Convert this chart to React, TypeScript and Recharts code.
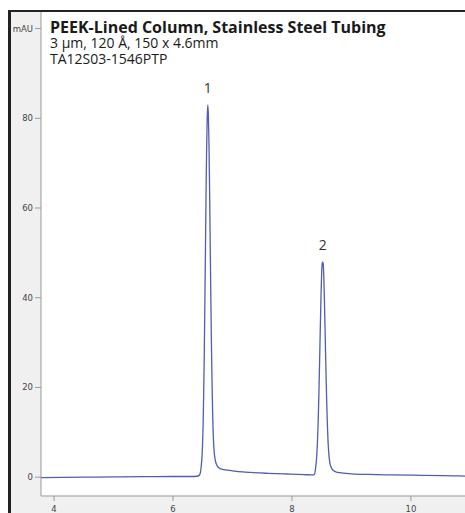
import React from "react";
import {
  LineChart,
  Line,
  XAxis,
  YAxis,
  CartesianGrid,
  ReferenceDot,
} from "recharts";

// retention time (min) and absorbance (mAU)
const retentionTimes = [
  3.78, 4.5, 5.0, 5.5, 6.0, 6.3, 6.4, 6.44, 6.46, 6.475, 6.495, 6.505, 6.515,
  6.525, 6.535, 6.545, 6.555, 6.565, 6.575, 6.585, 6.595, 6.605, 6.615, 6.625,
  6.635, 6.645, 6.655, 6.665, 6.675, 6.69, 6.71, 6.74, 6.78, 6.85, 6.95, 7.1,
  7.3, 7.6, 7.9, 8.2, 8.35, 8.38, 8.396, 8.416, 8.426, 8.436, 8.446, 8.456,
  8.466, 8.476, 8.486, 8.496, 8.506, 8.516, 8.526, 8.536, 8.546, 8.556, 8.566,
  8.576, 8.586, 8.596, 8.606, 8.62, 8.64, 8.67, 8.72, 8.8, 9.0, 9.3, 9.7, 10.2,
  10.7, 10.91,
];
const absorbance = [
  -0.1, 0.0, 0.05, 0.1, 0.15, 0.15, 0.2, 0.4, 1.0, 2.5, 6.6, 11, 18, 27, 38,
  50, 63, 73, 80, 83, 80.5, 74, 64, 52.5, 41, 30.5, 22, 15, 10, 6, 3.8, 2.6,
  2.0, 1.7, 1.5, 1.25, 1.05, 0.85, 0.7, 0.55, 0.5, 0.6, 1.9, 4.6, 7.0, 10.4,
  14.8, 20.2, 26.4, 32.8, 38.9, 44.0, 47.3, 48, 47.5, 44.5, 39.5, 33.5, 27.2,
  21.2, 16, 11.6, 8.2, 5.2, 3.0, 1.9, 1.3, 1.0, 0.75, 0.6, 0.5, 0.4, 0.3, 0.25,
];

const peakTimes = [6.585, 8.516];
const peakHeights = [83, 48];
const peakLabels = ["1", "2"];

const xMajorTicks = [4, 6, 8, 10];
const xMinorTicks = [
  4, 4.5, 5, 5.5, 6, 6.5, 7, 7.5, 8, 8.5, 9, 9.5, 10, 10.5,
];
const yMajorTicks = [0, 20, 40, 60, 80, 100];
const yMinorTicks = [
  0, 5, 10, 15, 20, 25, 30, 35, 40, 45, 50, 55, 60, 65, 70, 75, 80, 85, 90, 95,
  100,
];

const data = retentionTimes.map((t, i) => ({ t, mAU: absorbance[i] }));

const X_DOMAIN: [number, number] = [3.78, 10.91];
const Y_DOMAIN: [number, number] = [-4.2, 103.7];

const tickFont = { fontSize: 8.5, fill: "#444", fontFamily: "DejaVu Sans" };
const textFont = "'Open Sans', sans-serif";

export default function App() {
  return (
    <div
      style={{
        position: "fixed",
        left: 0,
        top: 0,
        width: 465,
        height: 513,
        background: "#fff",
        overflow: "hidden",
      }}
    >
      <div
        style={{
          position: "absolute",
          left: 8,
          top: 10,
          width: 470,
          height: 520,
          borderLeft: "3px solid #222",
          borderTop: "2px solid #222",
          background: "#f0f0f0",
        }}
      />
      <div style={{ position: "absolute", left: 0, top: 0 }}>
        <LineChart
          width={465}
          height={513}
          data={data}
          margin={{ top: 12, right: 0, left: 0, bottom: 0 }}
        >
          <CartesianGrid
            xAxisId="major"
            yAxisId="major"
            horizontal={false}
            vertical={false}
            fill="#fff"
          />
          <XAxis
            xAxisId="minor"
            dataKey="t"
            type="number"
            domain={X_DOMAIN}
            allowDataOverflow
            ticks={xMinorTicks}
            tickFormatter={() => ""}
            tickSize={3}
            tickLine={{ stroke: "#999" }}
            axisLine={false}
            height={0}
          />
          <XAxis
            xAxisId="major"
            dataKey="t"
            type="number"
            domain={X_DOMAIN}
            allowDataOverflow
            ticks={xMajorTicks}
            tickSize={5}
            tickMargin={5}
            tick={tickFont}
            tickLine={{ stroke: "#999" }}
            axisLine={{ stroke: "#999" }}
            height={17}
          />
          <YAxis
            yAxisId="minor"
            type="number"
            domain={Y_DOMAIN}
            allowDataOverflow
            ticks={yMinorTicks}
            tickFormatter={() => ""}
            tickSize={3}
            tickLine={{ stroke: "#999" }}
            axisLine={false}
            width={0}
          />
          <YAxis
            yAxisId="major"
            type="number"
            domain={Y_DOMAIN}
            allowDataOverflow
            ticks={yMajorTicks}
            tickFormatter={(v: number) => (v === 100 ? "mAU" : String(v))}
            tickSize={6}
            tickMargin={2}
            tick={tickFont}
            tickLine={{ stroke: "#999" }}
            axisLine={{ stroke: "#999" }}
            width={41}
          />
          <Line
            xAxisId="major"
            yAxisId="major"
            type="monotone"
            dataKey="mAU"
            stroke="#4f5eb0"
            strokeWidth={1.3}
            dot={false}
            isAnimationActive={false}
          />
          {peakTimes.map((t, i) => (
            <ReferenceDot
              key={peakLabels[i]}
              xAxisId="major"
              yAxisId="major"
              x={t}
              y={peakHeights[i]}
              r={0}
              stroke="none"
              label={{
                value: peakLabels[i],
                position: "top",
                offset: 12,
                fill: "#333",
                fontSize: 14,
                fontFamily: textFont,
              }}
            />
          ))}
        </LineChart>
      </div>
      <div
        style={{
          position: "absolute",
          left: 50,
          top: 19,
          fontFamily: textFont,
          color: "#1a1a1a",
          lineHeight: "16px",
          whiteSpace: "nowrap",
        }}
      >
        <div style={{ fontSize: 16, fontWeight: 700 }}>
          PEEK-Lined Column, Stainless Steel Tubing
        </div>
        <div style={{ fontSize: 14 }}>3 µm, 120 Å, 150 x 4.6mm</div>
        <div style={{ fontSize: 14 }}>TA12S03-1546PTP</div>
      </div>
    </div>
  );
}
